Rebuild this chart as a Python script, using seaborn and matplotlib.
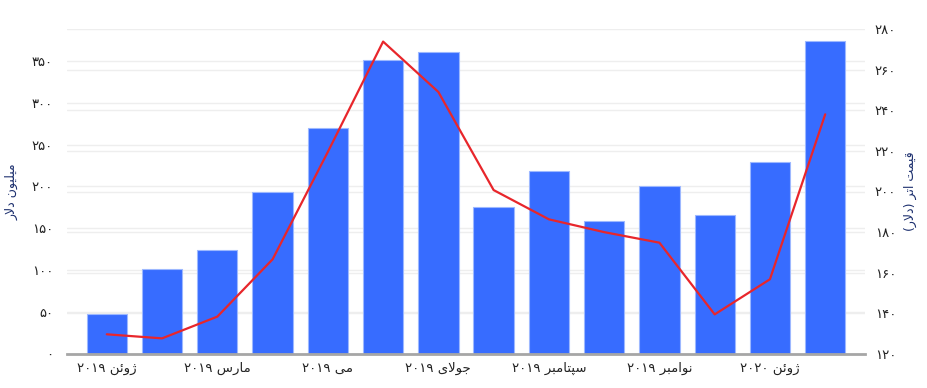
import matplotlib
matplotlib.use("Agg")
import matplotlib.pyplot as plt
import matplotlib.transforms as mtransforms
from matplotlib.ticker import FuncFormatter, MultipleLocator
import pandas as pd
import seaborn as sns

# ─────────────────────────────────────────────
# data
# ─────────────────────────────────────────────
months = ["2019-01", "2019-02", "2019-03", "2019-04", "2019-05", "2019-06", "2019-07",
          "2019-08", "2019-09", "2019-10", "2019-11", "2019-12", "2020-01", "2020-02"]
volume = [48, 101, 124, 193, 270, 351, 360, 175, 219, 159, 200, 166, 229, 374]
price = [129.7, 127.7, 138.4, 166.6, 219.5, 273.8, 249.0, 200.7, 186.3, 180.0, 174.8,
         139.5, 156.8, 238.0]
tick_pos = [0, 2, 4, 6, 8, 10, 12]
tick_text = ["ژوئن ۲۰۱۹", "مارس ۲۰۱۹", "می ۲۰۱۹", "جولای ۲۰۱۹",
             "سپتامبر ۲۰۱۹", "نوامبر ۲۰۱۹", "ژوئن ۲۰۲۰"]
left_label = "میلیون دلار"
right_label = "قیمت اتر (دلار)"

# ─────────────────────────────────────────────
# tiny arabic shaper (matplotlib has no complex text layout)
# ─────────────────────────────────────────────
FORMS = {  # isolated, final, initial, medial
    "ا": ("\uFE8D", "\uFE8E"), "د": ("\uFEA9", "\uFEAA"), "ر": ("\uFEAD", "\uFEAE"),
    "ژ": ("\uFB8A", "\uFB8B"), "و": ("\uFEED", "\uFEEE"),
    "ب": ("\uFE8F", "\uFE90", "\uFE91", "\uFE92"), "پ": ("\uFB56", "\uFB57", "\uFB58", "\uFB59"),
    "ت": ("\uFE95", "\uFE96", "\uFE97", "\uFE98"), "ج": ("\uFE9D", "\uFE9E", "\uFE9F", "\uFEA0"),
    "س": ("\uFEB1", "\uFEB2", "\uFEB3", "\uFEB4"), "ق": ("\uFED5", "\uFED6", "\uFED7", "\uFED8"),
    "ل": ("\uFEDD", "\uFEDE", "\uFEDF", "\uFEE0"), "م": ("\uFEE1", "\uFEE2", "\uFEE3", "\uFEE4"),
    "ن": ("\uFEE5", "\uFEE6", "\uFEE7", "\uFEE8"), "ی": ("\uFBFC", "\uFBFD", "\uFBFE", "\uFBFF"),
    "ئ": ("\uFE89", "\uFE8A", "\uFE8B", "\uFE8C"),
}


def shape(text):
    chars = list(text)
    out = []
    i = 0
    while i < len(chars):
        c = chars[i]
        if c not in FORMS:
            out.append(c)
            i += 1
            continue
        prev = chars[i - 1] if i > 0 else ""
        joins_prev = prev in FORMS and len(FORMS[prev]) == 4
        nxt = chars[i + 1] if i + 1 < len(chars) else ""
        if c == "ل" and nxt == "ا":
            out.append("\uFEFC" if joins_prev else "\uFEFB")
            i += 2
            continue
        joins_next = len(FORMS[c]) == 4 and nxt in FORMS
        f = FORMS[c]
        if joins_prev and joins_next:
            out.append(f[3])
        elif joins_prev:
            out.append(f[1])
        elif joins_next:
            out.append(f[2])
        else:
            out.append(f[0])
        i += 1
    # visual order: reverse, keep digit runs left to right, mirror brackets
    vis = out[::-1]
    res, run = [], []
    for ch in vis:
        if "\u06F0" <= ch <= "\u06F9":
            run.append(ch)
        else:
            res.extend(run[::-1])
            run = []
            res.append({"(": ")", ")": "("}.get(ch, ch))
    res.extend(run[::-1])
    return "".join(res)


def fa_digits(v, _pos=None):
    return str(int(round(v))).translate(str.maketrans("0123456789", "۰۱۲۳۴۵۶۷۸۹"))


# ─────────────────────────────────────────────
# chart
# ─────────────────────────────────────────────
sns.set_theme(style="white")
plt.rcParams["font.family"] = ["DejaVu Sans"]

df = pd.DataFrame({"month": months, "volume": volume, "price": price})
df["pos"] = range(len(df))

fig = plt.figure(figsize=(9.27, 3.88), dpi=100)
ax = fig.add_axes([67 / 927, 34 / 388, 798 / 927, 325 / 388])
ax2 = ax.twinx()

sns.barplot(data=df, x="month", y="volume", color="#376cff", saturation=1,
            width=0.73, edgecolor="#9db8ff", linewidth=0.8, ax=ax, zorder=2)
sns.lineplot(data=df, x="pos", y="price", color="#e8262b", linewidth=1.6, ax=ax2)

ax.set_xlim(-0.72, len(months) - 0.28)
ax.set_ylim(0, 388)
ax2.set_ylim(120, 280)
ax.yaxis.set_major_locator(MultipleLocator(50))
ax2.yaxis.set_major_locator(MultipleLocator(20))
ax.yaxis.set_major_formatter(FuncFormatter(fa_digits))
ax2.yaxis.set_major_formatter(FuncFormatter(fa_digits))

# grids of both scales, behind the bars
ax.set_axisbelow(True)
ax.grid(axis="y", color="#eeeeee", linewidth=1)
trans = mtransforms.blended_transform_factory(ax.transAxes, ax2.transData)
for t in ax2.get_yticks():
    if 120 < t <= 280:
        ax.plot([0, 1], [t, t], transform=trans, color="#eeeeee", linewidth=1, zorder=0.5)

ax.set_xticks(tick_pos)
ax.set_xticklabels([shape(t) for t in tick_text])
ax.set_xlabel("")
ax2.set_xlabel("")

for a in (ax, ax2):
    for s in a.spines.values():
        s.set_visible(False)
    a.tick_params(length=0, labelsize=9.5, colors="#222222")
ax.spines["bottom"].set_visible(True)
ax.spines["bottom"].set_color("#a6a6a6")
ax.spines["bottom"].set_linewidth(2)
ax.tick_params(axis="y", pad=10)
ax.tick_params(axis="x", pad=6)
ax2.tick_params(axis="y", pad=7)

ax.set_ylabel(shape(left_label), fontsize=9, color="#1c2f6e")
ax2.set_ylabel(shape(right_label), fontsize=9, color="#1c2f6e", rotation=90)
ax.yaxis.set_label_coords(-0.061, 0.5)
ax2.yaxis.set_label_coords(1.049, 0.5)

plt.savefig("out.png", dpi=100)
